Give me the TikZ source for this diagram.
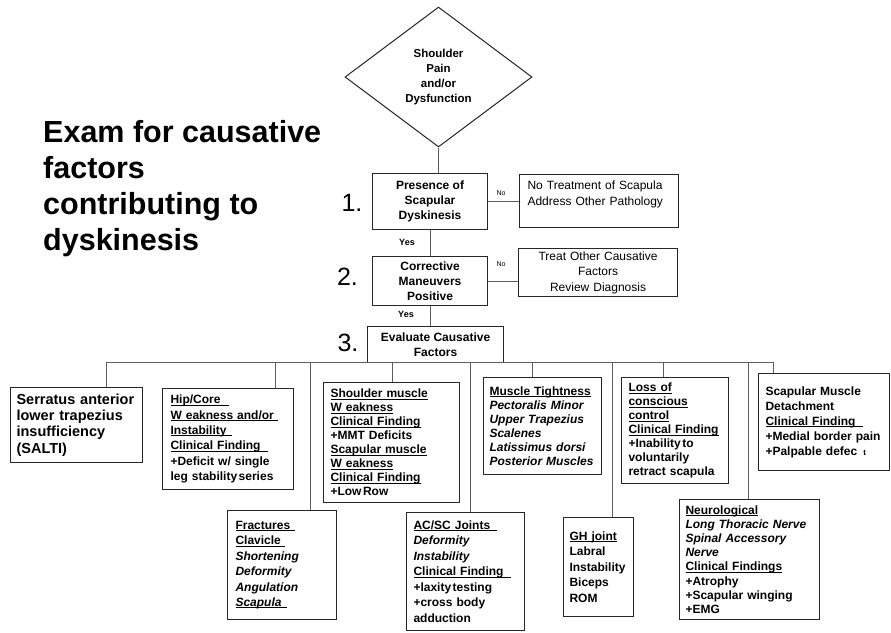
\documentclass[tikz,border=0pt]{standalone}
\usepackage{fontspec}
\setmainfont{Liberation Sans}
\usetikzlibrary{shapes.geometric}
\definecolor{linec}{HTML}{5E5E5E}
\definecolor{boxc}{HTML}{262626}
\newcommand\myul[2][0pt]{\setbox0\hbox{#2}\leavevmode\rlap{\rule[-1.7pt]{\dimexpr\wd0+#1\relax}{0.8pt}}\box0}
\tikzset{
  every node/.append style={execute at begin node={\hyphenpenalty=10000\relax}},
  conn/.style={draw=linec, line width=0.9pt},
  cbx/.style={draw=boxc, line width=1.1pt, anchor=north west, inner ysep=0pt, align=left,
              font=\bfseries\fontsize{12}{14}\selectfont},
  topbx/.style={draw=boxc, line width=1.1pt, anchor=north west, inner sep=0pt, align=center,
              font=\bfseries\fontsize{12}{15}\selectfont},
  nobx/.style={draw=boxc, line width=1.1pt, anchor=north west, inner xsep=8pt, inner ysep=0pt,
              text width=143pt, font=\fontsize{12}{15.5}\selectfont},
  diam/.style={draw=boxc, line width=1pt, shape=diamond, inner sep=0pt, minimum width=187pt,
              minimum height=140pt, align=center, font=\bfseries\fontsize{11.5}{15}\selectfont},
  num/.style={inner sep=0pt, font=\fontsize{25}{25}\selectfont},
  nolbl/.style={inner sep=0pt, font=\fontsize{7}{7}\selectfont},
  yeslbl/.style={inner sep=0pt, font=\bfseries\fontsize{9}{9}\selectfont},
  ttl/.style={inner sep=0pt, anchor=north west, align=left, font=\bfseries\fontsize{30.5}{36}\selectfont}
}
\begin{document}
\begin{tikzpicture}[x=1pt,y=-1pt]
\useasboundingbox[fill=white] (0,0) rectangle (891,632);

% title
\node[ttl] (title) at (43,120) {Exam for causative\\factors\\contributing to\\dyskinesis};

% top flow
\node[diam] (d) at (438.5,77) {Shoulder\\Pain\\and/or\\Dysfunction};
\node[topbx, minimum width=115pt, minimum height=56pt] (b1) at (372,173) {Presence of\\Scapular\\Dyskinesis};
\node[topbx, minimum width=115pt, minimum height=49pt] (b2) at (372,256) {Corrective\\Maneuvers\\Positive};
\node[topbx, minimum width=136pt, minimum height=36pt] (b3) at (367,326) {Evaluate Causative\\Factors};
\node[nobx, minimum height=53pt, align=left] (n1) at (519,174) {No Treatment of Scapula\\Address Other Pathology\\\mbox{}};
\node[nobx, minimum height=48pt, align=center] (n2) at (518,248) {Treat Other Causative\\Factors\\Review Diagnosis};

\node[num] (k1) at (352,203) {1.};
\node[num] (k2) at (347.5,277) {2.};
\node[num] (k3) at (348,343) {3.};
\node[nolbl] (no1) at (501,193) {No};
\node[nolbl] (no2) at (501,264) {No};
\node[yeslbl] (y1) at (407,242) {Yes};
\node[yeslbl] (y2) at (406,314) {Yes};

\draw[conn] (d.south) -- (d.south |- b1.north);
\draw[conn] (b1.south) -- (b1.south |- b2.north);
\draw[conn] (b2.south) -- (b2.south |- b3.north);
\draw[conn] (b1.east) -- (b1.east -| n1.west);
\draw[conn] (b2.east) -- (b2.east -| n2.west);

% cause boxes
\node[cbx, inner xsep=6pt, text width=120pt, minimum height=75pt,
      font=\bfseries\fontsize{14.5}{16.3}\selectfont] (c1) at (10,387)
  {Serratus anterior\\lower trapezius\\insufficiency\\(SALTI)};
\node[cbx, inner xsep=8pt, text width=115pt, minimum height=101pt,
      font=\bfseries\fontsize{12}{15.4}\selectfont] (c2) at (162,388)
  {\myul[8pt]{Hip/Core}\\\myul[4pt]{W eakness and/or}\\\myul[5pt]{Instability}\\\myul[7pt]{Clinical Finding}\\+Deficit w/ single\\leg stability\hspace{1.5pt}series};
\node[cbx, inner xsep=8pt, text width=93pt, minimum height=109pt,
      font=\bfseries\fontsize{12}{15.4}\selectfont] (c3) at (227,510)
  {\myul[5pt]{Fractures}\\\myul[4pt]{Clavicle}\\{\itshape Shortening}\\{\itshape Deformity}\\{\itshape Angulation}\\\myul[5pt]{\itshape Scapula}};
\node[cbx, inner xsep=7pt, text width=122pt, minimum height=120pt] (c4) at (323,382)
  {\myul{Shoulder muscle}\\\myul{W eakness}\\\myul{Clinical Finding}\\+MMT Deficits\\\myul{Scapular muscle}\\\myul{W eakness}\\\myul{Clinical Finding}\\+Low\hspace{1.5pt}Row};
\node[cbx, inner xsep=7pt, text width=104pt, minimum height=118pt,
      font=\bfseries\fontsize{12}{15.5}\selectfont] (c5) at (406,512)
  {\myul[7pt]{AC/SC Joints}\\{\itshape Deformity}\\{\itshape Instability}\\\myul[7pt]{Clinical Finding}\\+laxity\hspace{1.5pt}testing\\+cross body\\adduction};
\node[cbx, inner xsep=6pt, text width=106pt, minimum height=97pt] (c6) at (483,377)
  {\myul{Muscle Tightness}\\{\itshape Pectoralis Minor}\\{\itshape Upper Trapezius}\\{\itshape Scalenes}\\{\itshape Latissimus dorsi}\\{\itshape Posterior Muscles}};
\node[cbx, inner xsep=6pt, text width=58pt, minimum height=99pt,
      font=\bfseries\fontsize{12}{15.5}\selectfont] (c7) at (563,517)
  {\myul{GH joint}\\Labral\\Instability\\Biceps\\ROM};
\node[cbx, inner xsep=7pt, text width=93pt, minimum height=106pt] (c8) at (621,377)
  {\myul{Loss of}\\\myul{conscious}\\\myul{control}\\\myul{Clinical Finding}\\+Inability\hspace{1.5pt}to\\voluntarily\\retract scapula};
\node[cbx, inner xsep=6pt, text width=128pt, minimum height=120pt,
      font=\bfseries\fontsize{12}{14.2}\selectfont] (c9) at (679,499)
  {\myul{Neurological}\\{\itshape Long Thoracic Nerve}\\{\itshape Spinal Accessory}\\{\itshape Nerve}\\\myul{Clinical Findings}\\+Atrophy\\+Scapular winging\\+EMG};
\node[cbx, inner xsep=7pt, text width=117pt, minimum height=97pt,
      font=\bfseries\fontsize{12}{15}\selectfont] (c10) at (758,373)
  {Scapular Muscle\\Detachment\\\myul[7pt]{Clinical Finding}\\+Medial border pain\\+Palpable defec\hspace{6pt}{\fontsize{8}{8}\selectfont t}};

% bus and branches
\coordinate (busL) at (106,362);
\coordinate (busR) at (773,362);
\draw[conn] (busL) -- (busR);
\coordinate (j1) at (106,362);
\coordinate (j2) at (275,362);
\coordinate (j3) at (310,362);
\coordinate (j4) at (392,362);
\coordinate (j5) at (470,362);
\coordinate (j6) at (532,362);
\coordinate (j7) at (612,362);
\coordinate (j8) at (663,362);
\coordinate (j9) at (748,362);
\coordinate (j10) at (773,362);
\draw[conn] (j1) -- (j1 |- c1.north);
\draw[conn] (j2) -- (j2 |- c2.north);
\draw[conn] (j3) -- (j3 |- c3.north);
\draw[conn] (j4) -- (j4 |- c4.north);
\draw[conn] (j5) -- (j5 |- c5.north);
\draw[conn] (j6) -- (j6 |- c6.north);
\draw[conn] (j7) -- (j7 |- c7.north);
\draw[conn] (j8) -- (j8 |- c8.north);
\draw[conn] (j9) -- (j9 |- c9.north);
\draw[conn] (j10) -- (j10 |- c10.north);
\end{tikzpicture}
\end{document}
